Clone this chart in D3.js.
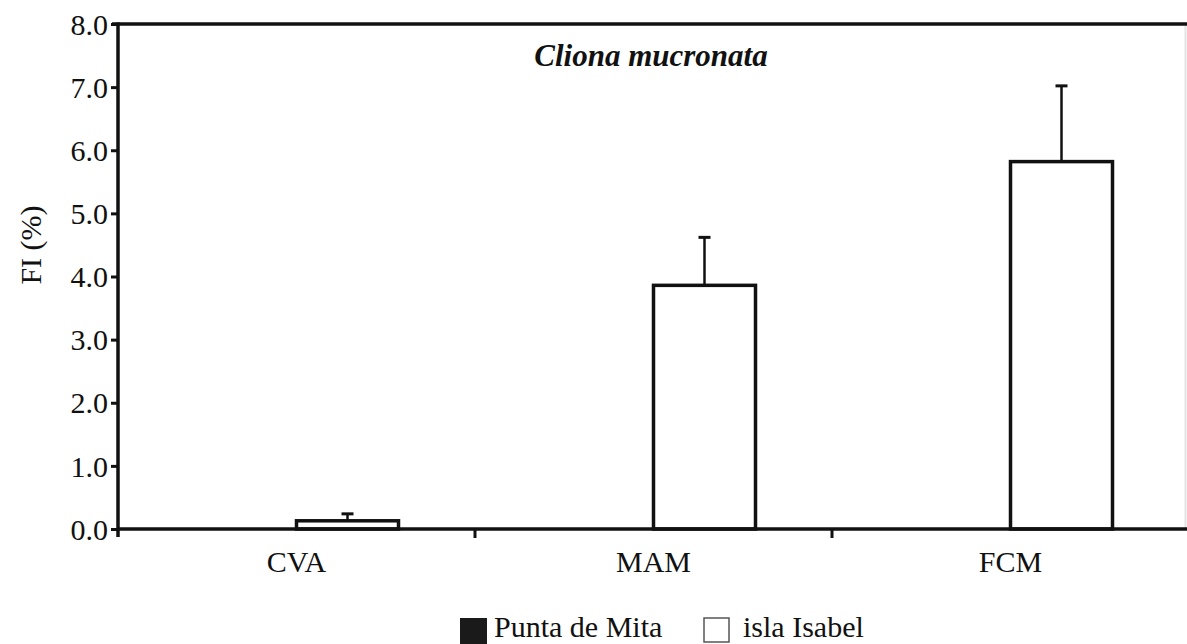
<!DOCTYPE html>
<html>
<head>
<meta charset="utf-8">
<script src="https://cdn.jsdelivr.net/npm/d3@7"></script>
<style>
  body { margin: 0; background: #fff; }
  text { font-family: "Liberation Serif", "Times New Roman", serif; fill: #111; }
</style>
</head>
<body>
<div id="chart"></div>
<script>
// data
let categories = ["CVA", "MAM", "FCM"];
let seriesNames = ["Punta de Mita", "isla Isabel"];
let seriesColors = ["#1a1a1a", "#ffffff"];
let puntaMita = [0, 0, 0];
let islaIsabel = [0.13, 3.86, 5.82];
let islaIsabelErr = [0.11, 0.76, 1.2];
let yTicks = [0, 1, 2, 3, 4, 5, 6, 7, 8];

let width = 1187, height = 644;
let margin = {left: 118, right: -2, top: 24, bottom: 115};

let svg = d3.select("#chart").append("svg")
    .attr("width", width)
    .attr("height", height);

let x0 = d3.scaleBand()
    .domain(categories)
    .range([margin.left, width - margin.right])
    .paddingInner(0).paddingOuter(0);

let x1 = d3.scaleBand()
    .domain(seriesNames)
    .range([0, x0.bandwidth()])
    .paddingInner(0).paddingOuter(0.75);

let y = d3.scaleLinear()
    .domain([0, 8])
    .range([height - margin.bottom, margin.top]);

// faint right border from the scan
svg.append("line")
    .attr("x1", width - 1.5).attr("x2", width - 1.5)
    .attr("y1", margin.top).attr("y2", y(0))
    .style("stroke", "#e4e4e4").style("stroke-width", 2);

// bars
let rows = categories.map((c, i) => ({cat: c, vals: [puntaMita[i], islaIsabel[i]], err: [0, islaIsabelErr[i]]}));

let groups = svg.selectAll("g.grp").data(rows).enter().append("g")
    .attr("class", "grp")
    .attr("transform", d => "translate(" + x0(d.cat) + ",0)");

// error bars (drawn behind bars)
groups.each(function (d) {
    let g = d3.select(this);
    d.vals.forEach((v, k) => {
        if (!d.err[k]) return;
        let cx = x1(seriesNames[k]) + x1.bandwidth() / 2;
        g.append("line")
            .attr("x1", cx).attr("x2", cx)
            .attr("y1", y(v)).attr("y2", y(v + d.err[k]))
            .style("stroke", "#111").style("stroke-width", 2.5);
        g.append("line")
            .attr("x1", cx - 6).attr("x2", cx + 6)
            .attr("y1", y(v + d.err[k])).attr("y2", y(v + d.err[k]))
            .style("stroke", "#111").style("stroke-width", 3);
    });
});

groups.selectAll("rect").data(d => d.vals.map((v, k) => ({v: v, k: k}))).enter().append("rect")
    .attr("x", d => x1(seriesNames[d.k]))
    .attr("y", d => y(d.v))
    .attr("width", x1.bandwidth())
    .attr("height", d => y(0) - y(d.v))
    .style("fill", d => seriesColors[d.k])
    .style("stroke", "#111")
    .style("stroke-width", d => d.v > 0 ? 3.5 : 0);

// y axis
let yAxis = svg.append("g")
    .attr("transform", "translate(" + margin.left + ",0)")
    .call(d3.axisLeft(y).tickValues(yTicks).tickFormat(d3.format(".1f")).tickSize(7).tickPadding(3));
yAxis.select(".domain").remove();
yAxis.selectAll(".tick line").style("stroke", "#111").style("stroke-width", 3);
yAxis.selectAll("text").style("font-size", "30px").attr("dy", "0.34em");
yAxis.append("line")
    .attr("x1", 0).attr("x2", 0)
    .attr("y1", y(8) - 1.5).attr("y2", y(0) + 8)
    .style("stroke", "#111").style("stroke-width", 3.5);

// top border
svg.append("line")
    .attr("x1", margin.left - 6).attr("x2", width)
    .attr("y1", y(8)).attr("y2", y(8))
    .style("stroke", "#111").style("stroke-width", 3.5);

// x axis
let xAxis = svg.append("g")
    .attr("transform", "translate(0," + y(0) + ")")
    .call(d3.axisBottom(x0).tickSize(0).tickPadding(22));
xAxis.select(".domain").remove();
xAxis.selectAll("text").style("font-size", "30px");
xAxis.append("line")
    .attr("x1", margin.left).attr("x2", width)
    .attr("y1", 0).attr("y2", 0)
    .style("stroke", "#111").style("stroke-width", 3.5);
// separator ticks between groups
xAxis.selectAll("line.sep").data(categories.slice(1)).enter().append("line")
    .attr("class", "sep")
    .attr("x1", d => x0(d)).attr("x2", d => x0(d))
    .attr("y1", 0).attr("y2", 9)
    .style("stroke", "#111").style("stroke-width", 3);

// title
svg.append("text")
    .attr("x", 651).attr("y", 66)
    .attr("text-anchor", "middle")
    .style("font-size", "31px")
    .style("font-weight", "bold")
    .style("font-style", "italic")
    .text("Cliona mucronata");

// y label
svg.append("text")
    .attr("transform", "translate(41," + 245 + ") rotate(-90)")
    .attr("text-anchor", "middle")
    .style("font-size", "30px")
    .text("FI (%)");

// legend
let legendX = [460, 703];
let legend = svg.selectAll("g.leg").data(seriesNames).enter().append("g")
    .attr("class", "leg")
    .attr("transform", (d, i) => "translate(" + legendX[i] + ",617)");
legend.append("rect")
    .attr("x", (d, i) => i ? 1 : 0).attr("y", 1)
    .attr("width", (d, i) => i ? 25 : 27).attr("height", (d, i) => i ? 24 : 26)
    .style("fill", (d, i) => seriesColors[i])
    .style("stroke", (d, i) => i ? "#555" : "none")
    .style("stroke-width", 1.5);
legend.append("text")
    .attr("x", (d, i) => i ? 40 : 34)
    .attr("y", 20)
    .style("font-size", "30px")
    .text(d => d);
</script>
</body>
</html>
